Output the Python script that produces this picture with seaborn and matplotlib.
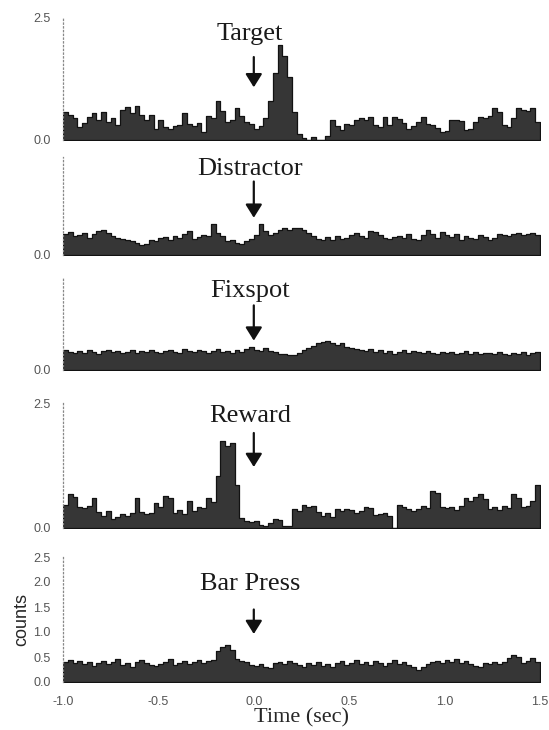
import numpy as np
import pandas as pd
import matplotlib
matplotlib.use("Agg")
import matplotlib.pyplot as plt
import seaborn as sns

# peri-event histograms, 0.025 s bins from -1.0 to 1.5 s
bin_centers = np.arange(100) * 0.025 - 1.0 + 0.0125

target = [0.58, 0.52, 0.45, 0.26, 0.35, 0.48, 0.56, 0.42, 0.57, 0.37,
          0.45, 0.30, 0.62, 0.68, 0.55, 0.70, 0.52, 0.40, 0.51, 0.23,
          0.40, 0.26, 0.22, 0.28, 0.30, 0.55, 0.32, 0.28, 0.35, 0.16,
          0.50, 0.45, 0.80, 0.60, 0.37, 0.40, 0.65, 0.50, 0.37, 0.33,
          0.23, 0.28, 0.45, 0.80, 1.37, 1.94, 1.73, 1.30, 0.58, 0.12,
          0.05, 0.00, 0.06, 0.00, 0.00, 0.08, 0.40, 0.28, 0.20, 0.32,
          0.30, 0.40, 0.45, 0.42, 0.47, 0.30, 0.26, 0.48, 0.30, 0.48,
          0.44, 0.35, 0.23, 0.28, 0.37, 0.48, 0.33, 0.30, 0.25, 0.16,
          0.18, 0.40, 0.42, 0.38, 0.20, 0.22, 0.37, 0.48, 0.45, 0.50,
          0.65, 0.58, 0.30, 0.26, 0.45, 0.65, 0.62, 0.60, 0.65, 0.37]

distractor = [0.42, 0.46, 0.38, 0.40, 0.44, 0.35, 0.42, 0.48, 0.50, 0.45,
              0.38, 0.35, 0.32, 0.30, 0.28, 0.25, 0.20, 0.22, 0.30, 0.28,
              0.34, 0.36, 0.30, 0.38, 0.35, 0.42, 0.48, 0.32, 0.36, 0.40,
              0.38, 0.64, 0.45, 0.38, 0.28, 0.30, 0.25, 0.22, 0.28, 0.32,
              0.40, 0.64, 0.48, 0.40, 0.45, 0.52, 0.55, 0.50, 0.55, 0.56,
              0.50, 0.45, 0.38, 0.32, 0.30, 0.36, 0.30, 0.38, 0.33, 0.35,
              0.40, 0.45, 0.38, 0.35, 0.48, 0.47, 0.40, 0.35, 0.32, 0.36,
              0.38, 0.35, 0.42, 0.32, 0.30, 0.40, 0.50, 0.42, 0.35, 0.46,
              0.40, 0.36, 0.42, 0.30, 0.38, 0.34, 0.32, 0.40, 0.36, 0.30,
              0.35, 0.42, 0.40, 0.38, 0.43, 0.45, 0.40, 0.42, 0.44, 0.40]

fixspot = [0.40, 0.36, 0.34, 0.38, 0.35, 0.40, 0.36, 0.33, 0.38, 0.40,
           0.36, 0.38, 0.34, 0.37, 0.40, 0.35, 0.38, 0.36, 0.40, 0.37,
           0.34, 0.38, 0.40, 0.36, 0.35, 0.42, 0.38, 0.36, 0.40, 0.38,
           0.35, 0.38, 0.42, 0.36, 0.38, 0.35, 0.40, 0.37, 0.42, 0.46,
           0.40, 0.38, 0.45, 0.38, 0.36, 0.33, 0.32, 0.30, 0.30, 0.34,
           0.40, 0.45, 0.50, 0.55, 0.58, 0.60, 0.56, 0.52, 0.55, 0.48,
           0.45, 0.42, 0.40, 0.38, 0.42, 0.36, 0.40, 0.35, 0.38, 0.33,
           0.36, 0.40, 0.34, 0.38, 0.36, 0.34, 0.38, 0.35, 0.33, 0.36,
           0.34, 0.37, 0.32, 0.35, 0.38, 0.33, 0.36, 0.32, 0.35, 0.34,
           0.32, 0.36, 0.33, 0.30, 0.35, 0.33, 0.36, 0.30, 0.34, 0.37]

reward = [0.46, 0.68, 0.62, 0.43, 0.40, 0.45, 0.60, 0.32, 0.25, 0.35,
          0.18, 0.22, 0.28, 0.25, 0.30, 0.60, 0.32, 0.28, 0.30, 0.50,
          0.42, 0.64, 0.60, 0.30, 0.36, 0.28, 0.54, 0.35, 0.43, 0.40,
          0.60, 0.52, 1.04, 1.75, 1.65, 1.70, 0.86, 0.21, 0.14, 0.12,
          0.14, 0.07, 0.05, 0.10, 0.18, 0.16, 0.05, 0.04, 0.39, 0.35,
          0.46, 0.42, 0.45, 0.32, 0.25, 0.30, 0.22, 0.39, 0.35, 0.38,
          0.36, 0.30, 0.34, 0.43, 0.40, 0.26, 0.28, 0.30, 0.25, 0.00,
          0.46, 0.42, 0.39, 0.35, 0.38, 0.45, 0.40, 0.75, 0.70, 0.43,
          0.40, 0.43, 0.36, 0.45, 0.60, 0.55, 0.62, 0.68, 0.58, 0.39,
          0.42, 0.36, 0.45, 0.40, 0.68, 0.60, 0.43, 0.45, 0.55, 0.86]

bar_press = [0.40, 0.45, 0.38, 0.42, 0.36, 0.40, 0.32, 0.38, 0.42, 0.36,
             0.40, 0.46, 0.35, 0.38, 0.30, 0.40, 0.45, 0.38, 0.34, 0.32,
             0.36, 0.40, 0.46, 0.35, 0.38, 0.42, 0.36, 0.40, 0.44, 0.38,
             0.42, 0.45, 0.62, 0.70, 0.75, 0.64, 0.46, 0.42, 0.40, 0.34,
             0.32, 0.36, 0.30, 0.28, 0.38, 0.40, 0.36, 0.42, 0.38, 0.34,
             0.30, 0.38, 0.35, 0.40, 0.32, 0.36, 0.30, 0.38, 0.42, 0.35,
             0.38, 0.44, 0.36, 0.40, 0.34, 0.42, 0.38, 0.32, 0.38, 0.44,
             0.36, 0.40, 0.34, 0.30, 0.25, 0.30, 0.36, 0.40, 0.42, 0.38,
             0.44, 0.40, 0.46, 0.38, 0.42, 0.36, 0.32, 0.30, 0.38, 0.36,
             0.40, 0.36, 0.40, 0.48, 0.54, 0.50, 0.38, 0.42, 0.48, 0.40]

titles = ["Target", "Distractor", "Fixspot", "Reward", "Bar Press"]
series = [target, distractor, fixspot, reward, bar_press]
x_ticks = [-1.0, -0.5, 0.0, 0.5, 1.0, 1.5]
x_labels = ["-1.0", "-0.5", "0.0", "0.5", "1.0", "1.5"]

sns.set_style("white")
plt.rcParams['font.family'] = ['Liberation Sans', 'DejaVu Sans']

fig = plt.figure(figsize=(5.49, 7.30), dpi=100)

# panel layout in pixels: (baseline y, top y, y max, y tick values)
W, H = 549, 730
x0, x1 = 63, 540
panels = [
    (140, 18, 2.5, [0.0, 2.5]),
    (255, 157, 2.0, [0.0]),
    (370, 277, 1.9, [0.0]),
    (528, 403, 2.5, [0.0, 2.5]),
    (682, 557, 2.5, [0.0, 0.5, 1.0, 1.5, 2.0, 2.5]),
]
# label / arrow positions in data units: (text y, arrow top, arrow tip)
annots = [(2.18, 1.70, 1.08), (1.75, 1.50, 0.76), (1.61, 1.32, 0.60),
          (2.24, 1.90, 1.22), (1.96, 1.45, 0.96)]

for i, (name, vals) in enumerate(zip(titles, series)):
    base, top, ymax, yt = panels[i]
    df = pd.DataFrame({"time": bin_centers, "count": vals})
    ax = fig.add_axes([x0 / W, (H - base) / H, (x1 - x0) / W, (base - top) / H])
    sns.histplot(data=df, x="time", weights="count", binwidth=0.025,
                 binrange=(-1.0, 1.5), element="step", fill=True,
                 color="#363636", edgecolor="#121212", linewidth=0.9,
                 alpha=1.0, ax=ax)
    ax.set_xlim(-1.0, 1.5)
    ax.set_ylim(0, ymax)
    ax.set_xlabel("")
    ax.set_ylabel("")
    for s in ["top", "right", "bottom"]:
        ax.spines[s].set_visible(False)
    ax.spines["left"].set_linestyle((0, (1, 2)))
    ax.spines["left"].set_color("#888888")
    ax.spines["left"].set_linewidth(0.9)
    ax.set_yticks(yt)
    ax.set_yticklabels([f"{v:.1f}" for v in yt])
    ax.tick_params(axis="y", length=2, pad=7, labelsize=9, colors="#555555")
    if i == 4:
        ax.set_xticks(x_ticks)
        ax.set_xticklabels(x_labels)
        ax.tick_params(axis="x", length=0, pad=10, labelsize=9, colors="#555555")
        ax.set_xlabel("Time (sec)", family="Liberation Serif", fontsize=16,
                      labelpad=0)
        ax.set_ylabel("counts", fontsize=13, labelpad=2)
    else:
        ax.set_xticks([])

    ty, ay0, ay1 = annots[i]
    ax.text(-0.02, ty, name, ha="center", va="center",
            family="Liberation Serif", fontsize=19, color="#1a1a1a")
    ax.annotate("", xy=(0.0, ay1), xytext=(0.0, ay0),
                arrowprops=dict(arrowstyle="-|>,head_width=0.5,head_length=0.8",
                                color="#111111", lw=1.6,
                                shrinkA=0, shrinkB=0))

fig.savefig("out.png", dpi=100)
